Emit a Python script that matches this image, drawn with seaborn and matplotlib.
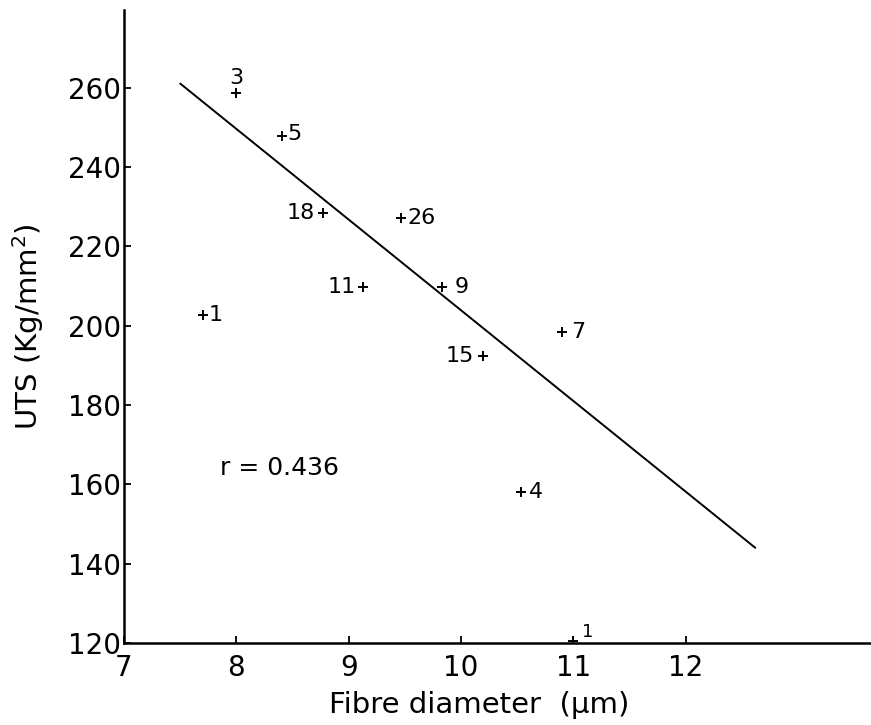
import seaborn as sns
import matplotlib.pyplot as plt
import pandas as pd

# Fibre diameter (um) vs UTS (Kg/mm2), with the count label beside each point
diameter = [8.0, 8.41, 8.77, 9.47, 9.13, 9.83, 7.70, 10.2, 10.9, 10.53, 11.0]
uts = [258.5, 247.7, 228.3, 227.0, 209.7, 209.7, 202.6, 192.3, 198.3, 158.0, 120.5]
counts = ['3', '5', '18', '26', '11', '9', '1', '15', '7', '4', '1']

# regression line end points
fit_x = [7.5, 12.62]
fit_y = [261.0, 144.0]

r_text = 'r = 0.436'
y_ticks = [120, 140, 160, 180, 200, 220, 240, 260]
x_ticks = [7, 8, 9, 10, 11, 12]

df = pd.DataFrame({'diameter': diameter, 'uts': uts, 'n': counts})

sns.set_style("ticks")
plt.rcParams['font.family'] = ['DejaVu Sans']

fig = plt.figure(figsize=(8.71, 7.25), dpi=100)
ax = fig.add_axes([0.1424, 0.113, 0.8576, 0.873])

sns.scatterplot(data=df, x='diameter', y='uts', marker='+', color='black',
                s=45, linewidth=1.4, ax=ax, zorder=3)
sns.lineplot(x=fit_x, y=fit_y, color='black', linewidth=1.4, ax=ax)

# label placement: (dx px, dy px, ha, va) per point, in order
offsets = [(0, 15, 'center', 'center'), (5, 2, 'left', 'center'),
           (-8, 0, 'right', 'center'), (6, 0, 'left', 'center'),
           (-7, 0, 'right', 'center'), (13, 0, 'left', 'center'),
           (6, 0, 'left', 'center'), (-10, 0, 'right', 'center'),
           (9, 0, 'left', 'center'), (8, 0, 'left', 'center'),
           (9, 9, 'left', 'center')]
for (x, y, lab), (dx, dy, ha, va) in zip(zip(diameter, uts, counts), offsets):
    size = 13 if dy == 9 else 16
    ax.annotate(lab, (x, y), xytext=(dx * 0.72, dy * 0.72), textcoords='offset points',
                ha=ha, va=va, fontsize=size, color='black')

ax.text(7.85, 164, r_text, fontsize=18, va='center', ha='left', color='black')

ax.set_xlim(7, 13.65)
ax.set_ylim(120, 279.5)
ax.set_xticks(x_ticks)
ax.set_yticks(y_ticks)
ax.tick_params(axis='both', direction='in', length=5, width=1.3,
               labelsize=20, colors='black')
ax.tick_params(axis='y', pad=2)
ax.tick_params(axis='x', pad=8)

sns.despine(ax=ax)
for side in ['left', 'bottom']:
    ax.spines[side].set_linewidth(1.8)
    ax.spines[side].set_color('black')

ax.set_xlabel('Fibre diameter  (\u00b5m)', fontsize=21, color='black')
ax.set_ylabel('UTS (Kg/mm$^2$)', fontsize=21, color='black')
ax.xaxis.set_label_coords(0.475, -0.075)
ax.yaxis.set_label_coords(-0.104, 0.5)

plt.savefig('out.png', dpi=100)
plt.close()
